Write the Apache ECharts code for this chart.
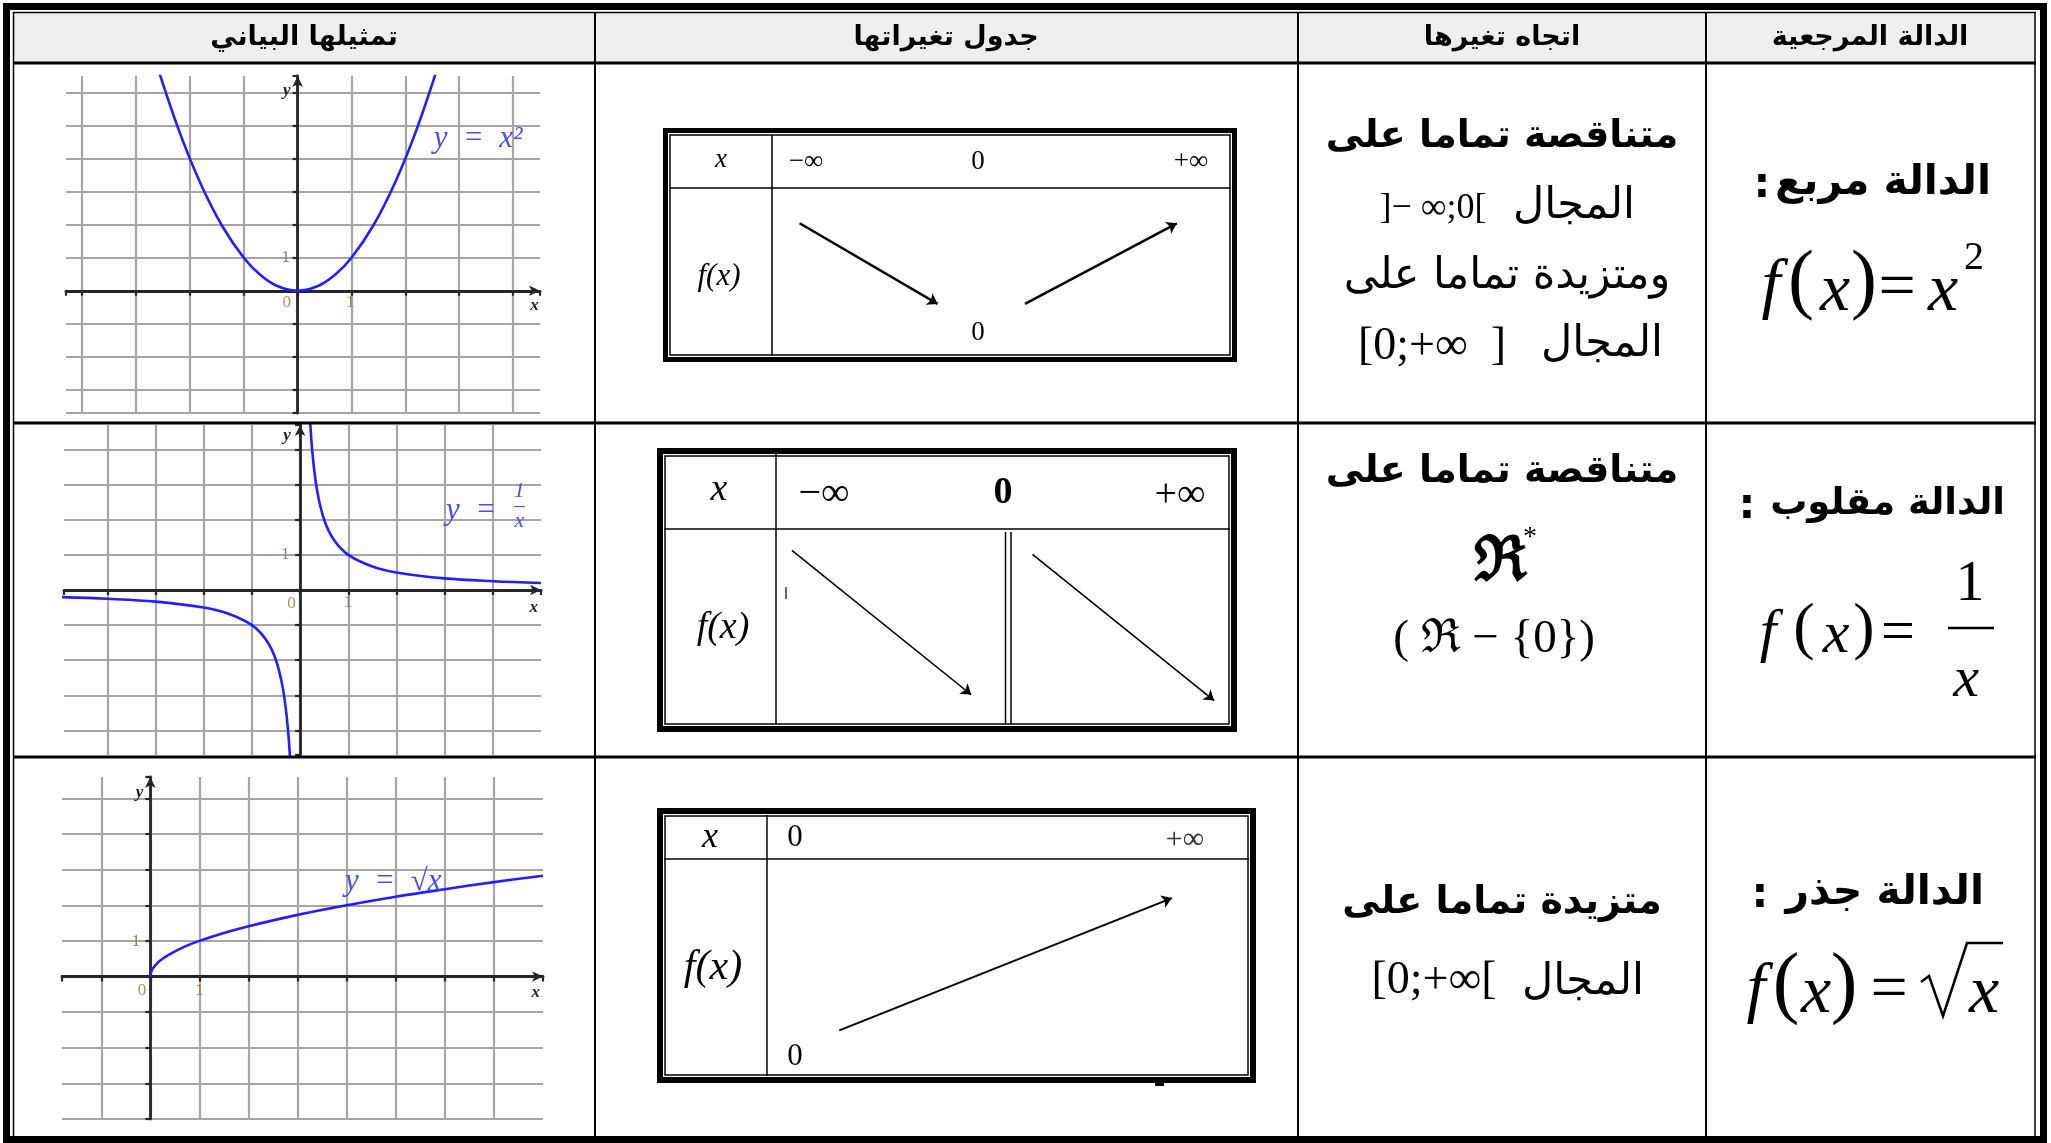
<!DOCTYPE html>
<html>
<head>
<meta charset="utf-8">
<title>الدوال المرجعية</title>
<script src="https://cdn.jsdelivr.net/npm/echarts@6.0.0/dist/echarts.min.js"></script>
<style>
  html, body { margin: 0; padding: 0; background: #fff; }
  #chart { width: 2051px; height: 1143px; }
</style>
</head>
<body>
<div id="chart"></div>
<script>
// column headers, from left to right as they appear
const headers = ["تمثيلها البياني", "جدول تغيراتها", "اتجاه تغيرها", "الدالة المرجعية"];

// points
const squareX = [-2.6, -2.2, -1.8, -1.4, -1, -0.7, -0.4, 0, 0.4, 0.7, 1, 1.4, 1.8, 2.2, 2.6];
const squareY = [6.76, 4.84, 3.24, 1.96, 1, 0.49, 0.16, 0, 0.16, 0.49, 1, 1.96, 3.24, 4.84, 6.76];
const invLeftX = [-5, -4, -3, -2, -1.5, -1, -0.7, -0.5, -0.35, -0.25, -0.19];
const invLeftY = [-0.2, -0.25, -0.33, -0.5, -0.67, -1, -1.43, -2, -2.86, -4, -5.3];
const invRightX = [0.19, 0.25, 0.35, 0.5, 0.7, 1, 1.5, 2, 3, 4, 5];
const invRightY = [5.3, 4, 2.86, 2, 1.43, 1, 0.67, 0.5, 0.33, 0.25, 0.2];
const rootX = [0, 0.02, 0.08, 0.2, 0.4, 0.7, 1, 1.5, 2, 3, 4, 5, 6, 7, 8];
const rootY = [0, 0.14, 0.28, 0.45, 0.63, 0.84, 1, 1.22, 1.41, 1.73, 2, 2.24, 2.45, 2.65, 2.83];

// variation tables: x row labels and arrows (start, end) in table units
const squareRow = ["−∞", "0", "+∞"];
const squareMin = "0";
const squareArrows = [[[0.06, 0.79], [0.36, 0.31]], [[0.55, 0.31], [0.88, 0.79]]];
const inverseRow = ["−∞", "0", "+∞"];
const inverseArrows = [[[0.035, 0.89], [0.43, 0.15]], [[0.565, 0.87], [0.965, 0.12]]];
const rootRow = ["0", "+∞"];
const rootMin = "0";
const rootArrows = [[[0.15, 0.21], [0.84, 0.82]]];

const toPts = (xs, ys) => xs.map((x, i) => [x, ys[i]]);

const chart = echarts.init(document.getElementById("chart"));

const G = [];
function line(x1, y1, x2, y2, w, color) {
  G.push({ type: "line", shape: { x1, y1, x2, y2 }, style: { stroke: color || "#000", lineWidth: w }, z: 50 });
}
function poly(points, w) {
  G.push({ type: "polyline", shape: { points }, style: { stroke: "#000", lineWidth: w, fill: null }, z: 50 });
}
function box(x, y, w, h, fill, stroke, lw) {
  G.push({ type: "rect", shape: { x, y, width: w, height: h },
    style: { fill: fill || "none", stroke: stroke || null, lineWidth: lw || 0 }, z: 40 });
}
function text(x, y, str, font, extra) {
  G.push({ type: "text", x, y, z: 60,
    style: Object.assign({ text: str, font, fill: "#000", align: "center", verticalAlign: "middle" }, extra || {}) });
}
function frame(x1, y1, x2, y2, thick) {
  box(x1 + thick / 2, y1 + thick / 2, x2 - x1 - thick, y2 - y1 - thick, "none", "#000", thick);
  box(x1 + thick + 2, y1 + thick + 2, x2 - x1 - 2 * thick - 4, y2 - y1 - 2 * thick - 4, "none", "#000", 1.5);
}

const AR = '"DejaVu Sans"';
const TM = '"Liberation Serif"';

// outer table
box(14, 13, 2021, 49, "#eeeeee");
box(6.5, 6.5, 2037, 1133, "none", "#000", 7);
line(13.5, 12, 13.5, 1137, 1.5);
line(13, 12.5, 2036, 12.5, 1.5);
line(2035, 12, 2035, 1137, 1.5);
line(13, 63, 2036, 63, 3);
line(13, 423, 2036, 423, 3);
line(13, 757, 2036, 757, 3);
[595, 1298, 1706].forEach(x => line(x, 12, x, 1137, 2));

const headerX = [304, 946, 1502, 1870];
headers.forEach((h, i) => text(headerX[i], 38, h, "bold 27px " + AR));

// column 3 : direction of variation
text(1502, 137, "متناقصة تماما على", "bold 38px " + AR);
text(1574, 207, "المجال", "43px " + AR);
text(1433, 209, "]− ∞;0[", "36px " + TM);
text(1507, 277, "ومتزيدة تماما على", "43px " + AR);
text(1602, 345, "المجال", "43px " + AR);
text(1432, 347, "[0;+∞  ]", "46px " + TM);

text(1502, 472, "متناقصة تماما على", "bold 38px " + AR);
text(1500, 564, "ℜ", "bold 62px " + TM);
text(1530, 538, "*", "28px " + TM);
text(1494, 640, "( ℜ − {0})", "47px " + TM);

text(1502, 903, "متزيدة تماما على", "bold 38px " + AR);
text(1583, 983, "المجال", "43px " + AR);
text(1434, 981, "[0;+∞[", "46px " + TM);

// column 4 : reference function
text(1991, 183, "الدالة مربع", "bold 41px " + AR, { align: "right" });
text(1762, 186, ":", "bold 42px " + AR);
text(1771, 288, "f", "italic 68px " + TM);
text(1801, 284, "(", "78px " + TM);
text(1835, 292, "x", "italic 68px " + TM);
text(1864, 284, ")", "78px " + TM);
text(1897, 290, "=", "66px " + TM);
text(1943, 292, "x", "italic 68px " + TM);
text(1974, 258, "2", "40px " + TM);

text(2005, 504, "الدالة مقلوب", "bold 37px " + AR, { align: "right" });
text(1747, 507, ":", "bold 42px " + AR);
text(1768, 634, "f", "italic 60px " + TM);
text(1804, 630, "(", "64px " + TM);
text(1836, 636, "x", "italic 60px " + TM);
text(1864, 630, ")", "64px " + TM);
text(1898, 634, "=", "60px " + TM);
text(1970, 585, "1", "58px " + TM);
line(1948, 628, 1994, 628, 2.5);
text(1966, 681, "x", "italic 58px " + TM);

text(1984, 893, "الدالة جذر", "bold 41px " + AR, { align: "right" });
text(1760, 896, ":", "bold 42px " + AR);
text(1756, 992, "f", "italic 68px " + TM);
text(1786, 987, "(", "80px " + TM);
text(1816, 994, "x", "italic 68px " + TM);
text(1844, 987, ")", "80px " + TM);
text(1889, 992, "=", "66px " + TM);
poly([[1921, 982], [1929, 976], [1943, 1016], [1967, 943], [2003, 943]], 2.5);
text(1984, 994, "x", "italic 68px " + TM);

// variation table 1
frame(663, 128, 1237, 362, 5);
line(670, 188, 1231, 188, 1.5);
line(772, 135, 772, 356, 1.5);
text(721, 160, "x", "italic 27px " + TM);
text(806, 162, squareRow[0], "27px " + TM);
text(978, 162, squareRow[1], "27px " + TM);
text(1191, 162, squareRow[2], "27px " + TM);
text(719, 277, "f(x)", "italic 31px " + TM);
text(978, 333, squareMin, "27px " + TM);

// variation table 2
frame(657, 448, 1237, 732, 6);
line(664, 529, 1230, 529, 1.5);
line(776, 454, 776, 724, 1.5);
line(1005.5, 532, 1005.5, 724, 1.5);
line(1011, 532, 1011, 724, 1.5);
line(786, 587, 786, 599, 1.2);
text(719, 490, "x", "italic 38px " + TM);
text(824, 494, inverseRow[0], "40px " + TM);
text(1003, 493, inverseRow[1], "bold 38px " + TM);
text(1180, 495, inverseRow[2], "40px " + TM);
text(723, 628, "f(x)", "italic 38px " + TM);

// variation table 3
frame(657, 808, 1256, 1083, 6);
line(664, 859, 1249, 859, 1.5);
line(767, 815, 767, 1076, 1.5);
box(1155, 1080, 9, 6, "#000");
text(710, 838, "x", "italic 36px " + TM);
text(795, 838, rootRow[0], "31px " + TM);
text(1185, 840, rootRow[1], "30px " + TM, { fill: "#333" });
text(713, 968, "f(x)", "italic 42px " + TM);
text(795, 1057, rootMin, "31px " + TM);

// cartesian graphs
const gridLine = { color: "#a6a6a6", width: 2.2 };
const axisStroke = { color: "#262626", width: 2.8 };
function graphAxis(idx, min, max, minLine) {
  return {
    type: "value", gridIndex: idx, min, max, minInterval: 1, maxInterval: 1,
    axisLine: { show: true, onZero: true, symbol: ["none", "arrow"], symbolSize: [8, 11], lineStyle: axisStroke },
    axisTick: { show: true, length: 5, lineStyle: { color: "#262626", width: 2.2 } },
    axisLabel: { show: false },
    splitLine: { show: true, showMinLine: !!minLine, showMaxLine: false, lineStyle: gridLine }
  };
}
function tableAxis(idx) {
  return { type: "value", gridIndex: idx, min: 0, max: 1, show: false };
}
function note(coord, str, style) {
  return { coord, symbol: "rect", symbolSize: 1, itemStyle: { color: "rgba(0,0,0,0)" },
    label: Object.assign({ show: true, position: "inside", formatter: str }, style) };
}
const zeroStyle = { color: "#b09070", fontFamily: TM, fontSize: 17 };
const oneStyle = { color: "#8f7f68", fontFamily: TM, fontSize: 17 };
const nameStyle = { color: "#222", fontFamily: TM, fontSize: 17, fontWeight: "bold", fontStyle: "italic" };
const curveLabel = { color: "#4b4bff", fontFamily: TM, fontSize: 31, fontStyle: "italic" };

function curve(idx, pts, notes) {
  return {
    type: "line", xAxisIndex: idx, yAxisIndex: idx, data: pts, smooth: 0.35,
    showSymbol: false, lineStyle: { color: "#1f1fff", width: 2.6 },
    markPoint: notes ? { silent: true, data: notes } : undefined
  };
}
function arrows(idx, list, width) {
  return {
    type: "lines", coordinateSystem: "cartesian2d", xAxisIndex: idx, yAxisIndex: idx,
    symbol: ["none", "arrow"], symbolSize: 10,
    lineStyle: { color: "#000", width, opacity: 1 },
    data: list.map(c => ({ coords: c }))
  };
}

chart.setOption({
  animation: false,
  backgroundColor: "#fff",
  grid: [
    { left: 66, top: 76, width: 474, height: 337 },
    { left: 64, top: 425, width: 477, height: 330 },
    { left: 62, top: 777, width: 481, height: 342 },
    { left: 772, top: 188, width: 460, height: 168 },
    { left: 776, top: 529, width: 454, height: 195 },
    { left: 767, top: 859, width: 482, height: 217 }
  ],
  xAxis: [
    graphAxis(0, -4.3, 4.5), graphAxis(1, -4.9, 5.0), graphAxis(2, -1.8, 8.0),
    tableAxis(3), tableAxis(4), tableAxis(5)
  ],
  yAxis: [
    graphAxis(0, -3.7, 6.5, true), graphAxis(1, -4.7, 4.7), graphAxis(2, -4.0, 5.6, true),
    tableAxis(3), tableAxis(4), tableAxis(5)
  ],
  series: [
    curve(0, toPts(squareX, squareY), [
      note([-0.2, -0.36], "0", zeroStyle),
      note([0.98, -0.36], "1", oneStyle),
      note([-0.22, 1.0], "1", oneStyle),
      note([4.4, -0.45], "x", nameStyle),
      note([-0.2, 6.05], "y", nameStyle),
      note([3.35, 4.6], "y  =  x²", curveLabel)
    ]),
    curve(1, toPts(invLeftX, invLeftY), [
      note([-0.18, -0.38], "0", zeroStyle),
      note([1.0, -0.37], "1", oneStyle),
      note([-0.31, 1.0], "1", oneStyle),
      note([4.85, -0.5], "x", nameStyle),
      note([-0.27, 4.4], "y", nameStyle),
      note([3.55, 2.25], "y  =", curveLabel),
      note([4.55, 2.4], "1\n–\nx", Object.assign({}, curveLabel, { fontSize: 22, lineHeight: 15 }))
    ]),
    curve(1, toPts(invRightX, invRightY)),
    curve(2, toPts(rootX, rootY), [
      note([-0.17, -0.38], "0", zeroStyle),
      note([1.0, -0.39], "1", oneStyle),
      note([-0.29, 0.97], "1", oneStyle),
      note([7.85, -0.45], "x", nameStyle),
      note([-0.22, 5.15], "y", nameStyle),
      note([4.95, 2.65], "y  =  √x", curveLabel)
    ]),
    arrows(3, squareArrows, 2.5),
    arrows(4, inverseArrows, 1.6),
    arrows(5, rootArrows, 2)
  ],
  graphic: G
});
</script>
</body>
</html>
